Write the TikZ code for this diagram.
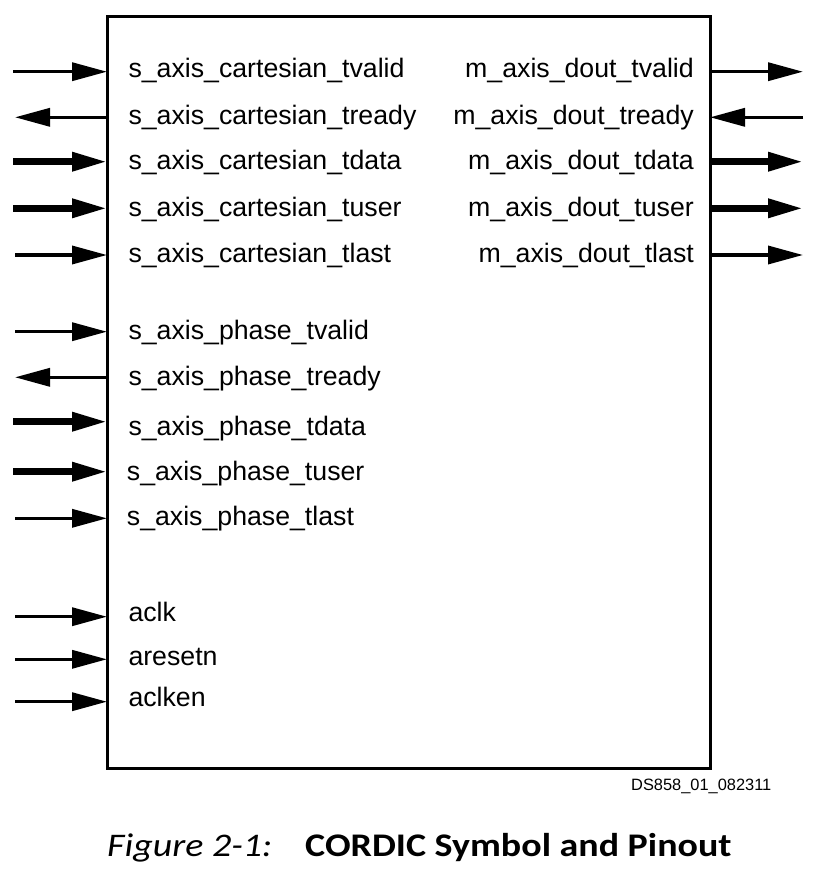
\documentclass[tikz,border=0pt]{standalone}
\usepackage{fontspec}
\setmainfont{Liberation Sans}
\newfontfamily\capfont[FakeStretch=1.15]{Carlito}
\usetikzlibrary{arrows.meta}
\tikzset{
  thinpin/.style={line width=3.5pt, -{Triangle[length=35pt,width=18pt]}},
  thickpin/.style={line width=6.5pt, -{Triangle[length=35pt,width=18pt]}},
  pinlabel/.style={font=\fontsize{26.7}{30}\selectfont, inner sep=0pt, anchor=base west},
  pinlabelr/.style={font=\fontsize{26.7}{30}\selectfont, inner sep=0pt, anchor=base east},
}
\begin{document}
\begin{tikzpicture}[x=1pt,y=-1pt]
\useasboundingbox (0,0) rectangle (823,875);
\node[draw, line width=3pt, minimum width=603pt, minimum height=751pt, inner sep=0pt, outer sep=0pt] (box) at (408.5,392.5) {};

% left side free ends
\coordinate (l1) at (13,71.7);
\coordinate (l2) at (15,117.3);
\coordinate (l3) at (13,161.7);
\coordinate (l4) at (13,208.3);
\coordinate (l5) at (15,255);
\coordinate (l6) at (15,331.7);
\coordinate (l7) at (15,377.3);
\coordinate (l8) at (13,421.7);
\coordinate (l9) at (13,471.7);
\coordinate (l10) at (15,518.3);
\coordinate (l11) at (15,616.7);
\coordinate (l12) at (15,659.3);
\coordinate (l13) at (15,701.7);
% right side free ends
\coordinate (r1) at (803,71.7);
\coordinate (r2) at (803,117.3);
\coordinate (r3) at (803,161.7);
\coordinate (r4) at (803,208.3);
\coordinate (r5) at (803,255);

\draw[thinpin] (l1) -- (box.west |- l1);
\draw[thinpin] (box.west |- l2) -- (l2);
\draw[thickpin] (l3) -- (box.west |- l3);
\draw[thickpin] (l4) -- (box.west |- l4);
\draw[thinpin] (l5) -- (box.west |- l5);
\draw[thinpin] (l6) -- (box.west |- l6);
\draw[thinpin] (box.west |- l7) -- (l7);
\draw[thickpin] (l8) -- (box.west |- l8);
\draw[thickpin] (l9) -- (box.west |- l9);
\draw[thinpin] (l10) -- (box.west |- l10);
\draw[thinpin] (l11) -- (box.west |- l11);
\draw[thinpin] (l12) -- (box.west |- l12);
\draw[thinpin] (l13) -- (box.west |- l13);

\draw[thinpin] (box.east |- r1) -- (r1);
\draw[thinpin] (r2) -- (box.east |- r2);
\draw[thickpin] (box.east |- r3) -- (r3);
\draw[thickpin] (box.east |- r4) -- (r4);
\draw[thinpin] (box.east |- r5) -- (r5);

\node[pinlabel] (t1) at (128.3,77.3) {s\_axis\_cartesian\_tvalid};
\node[pinlabel] (t2) at (128.3,124) {s\_axis\_cartesian\_tready};
\node[pinlabel] (t3) at (128.3,169.3) {s\_axis\_cartesian\_tdata};
\node[pinlabel] (t4) at (128.3,216) {s\_axis\_cartesian\_tuser};
\node[pinlabel] (t5) at (128.3,262.7) {s\_axis\_cartesian\_tlast};
\node[pinlabel] (t6) at (128.3,339.3) {s\_axis\_phase\_tvalid};
\node[pinlabel] (t7) at (128.3,385) {s\_axis\_phase\_tready};
\node[pinlabel] (t8) at (128.3,435) {s\_axis\_phase\_tdata};
\node[pinlabel] (t9) at (126.7,480) {s\_axis\_phase\_tuser};
\node[pinlabel] (t10) at (126.7,525) {s\_axis\_phase\_tlast};
\node[pinlabel] (t11) at (128.3,621.7) {aclk};
\node[pinlabel] (t12) at (128.3,665) {aresetn};
\node[pinlabel] (t13) at (128.3,706.7) {aclken};

\node[pinlabelr] (u1) at (694,77.3) {m\_axis\_dout\_tvalid};
\node[pinlabelr] (u2) at (694,124) {m\_axis\_dout\_tready};
\node[pinlabelr] (u3) at (694,169.3) {m\_axis\_dout\_tdata};
\node[pinlabelr] (u4) at (694,216) {m\_axis\_dout\_tuser};
\node[pinlabelr] (u5) at (694,262.7) {m\_axis\_dout\_tlast};

\node[font=\fontsize{16.4}{18}\selectfont, inner sep=0pt, anchor=base west] (ds) at (631,790.7) {DS858\_01\_082311};

\node[font=\capfont\fontsize{33}{36}\selectfont\itshape, inner sep=0pt, anchor=base west] (fig) at (107,856) {Figure 2-1:};
\node[font=\capfont\fontsize{33}{36}\selectfont\bfseries, inner sep=0pt, anchor=base west] (title) at (305,856) {CORDIC Symbol and Pinout};
\end{tikzpicture}
\end{document}
